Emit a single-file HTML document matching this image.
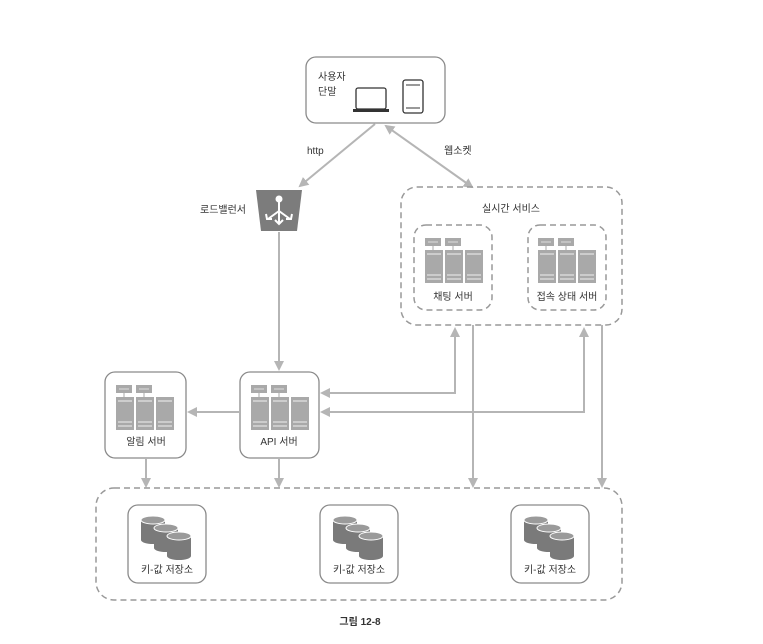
<!DOCTYPE html>
<html><head><meta charset="utf-8"><style>
html,body{margin:0;padding:0;background:#fff;}
svg{display:block;}
text{font-family:"Liberation Sans","Noto Sans CJK KR",sans-serif;fill:#333;font-size:10px;}
</style></head><body>
<svg width="763" height="644" viewBox="0 0 763 644" xmlns="http://www.w3.org/2000/svg">
<defs>
<marker id="ah" markerWidth="10" markerHeight="10" refX="8" refY="5" orient="auto-start-reverse" markerUnits="userSpaceOnUse">
<path d="M0,0 L10,5 L0,10 z" fill="#b5b5b5"/></marker>
<g id="srv">
<rect x="11" y="13" width="16" height="8" fill="#a9a9a9"/><rect x="31" y="13" width="16" height="8" fill="#a9a9a9"/>
<line x1="14" y1="17" x2="24" y2="17" stroke="#ddd" stroke-width="1"/><line x1="34" y1="17" x2="44" y2="17" stroke="#ddd" stroke-width="1"/>
<line x1="19" y1="21" x2="19" y2="25" stroke="#a9a9a9"/><line x1="39" y1="21" x2="39" y2="25" stroke="#a9a9a9"/>
<rect x="11" y="25" width="18" height="33" fill="#a9a9a9"/><rect x="31" y="25" width="18" height="33" fill="#a9a9a9"/><rect x="51" y="25" width="18" height="33" fill="#a9a9a9"/>
<g stroke="#e5e5e5" stroke-width="1.2">
<line x1="13" y1="29" x2="27" y2="29"/><line x1="33" y1="29" x2="47" y2="29"/><line x1="53" y1="29" x2="67" y2="29"/>
<line x1="13" y1="50" x2="27" y2="50"/><line x1="33" y1="50" x2="47" y2="50"/><line x1="53" y1="50" x2="67" y2="50"/>
<line x1="13" y1="54" x2="27" y2="54"/><line x1="33" y1="54" x2="47" y2="54"/><line x1="53" y1="54" x2="67" y2="54"/>
</g></g>
<g id="cyl">
<path d="M0,4 v20 a12,4 0 0 0 24,0 v-20" fill="#7a7a7a"/><ellipse cx="12" cy="4" rx="12" ry="4" fill="#9a9a9a" stroke="#fff" stroke-width="1"/>
</g>
<g id="db">
<use href="#cyl" x="0" y="0"/><use href="#cyl" x="13" y="8"/><use href="#cyl" x="26" y="16"/>
</g>
</defs>

<rect x="306" y="57" width="139" height="66" rx="10" fill="#fff" stroke="#8a8a8a" stroke-width="1.3"/>
<text x="318" y="80" font-size="11">사용자</text>
<text x="318" y="95" font-size="11">단말</text>
<rect x="356" y="88" width="30" height="21" rx="2" fill="none" stroke="#333" stroke-width="1.3"/>
<rect x="353" y="109" width="36" height="3" fill="#333"/>
<rect x="403" y="80" width="20" height="33" rx="2.5" fill="none" stroke="#333" stroke-width="1.3"/>
<line x1="406" y1="85" x2="420" y2="85" stroke="#333"/><line x1="406" y1="108" x2="420" y2="108" stroke="#333"/>

<line x1="375" y1="124" x2="300" y2="186" stroke="#b5b5b5" stroke-width="2" marker-end="url(#ah)"/>
<line x1="386" y1="126" x2="472" y2="187" stroke="#b5b5b5" stroke-width="2" marker-end="url(#ah)" marker-start="url(#ah)"/>
<text x="307" y="154" font-size="11">http</text>
<text x="444" y="154" font-size="11">웹소켓</text>

<text x="200" y="213" font-size="11">로드밸런서</text>
<path d="M256,190 L302,190 L297,231 L261,231 z" fill="#7c7c7c"/>
<g stroke="#fff" stroke-width="2" fill="none">
<circle cx="279" cy="199" r="2.5" fill="#fff"/>
<line x1="279" y1="201" x2="279" y2="224"/><line x1="279" y1="211" x2="268" y2="219"/><line x1="279" y1="211" x2="290" y2="219"/>
<path d="M275,220 L279,224 L283,220"/><path d="M266,214 L267,219 L272,219"/><path d="M292,214 L291,219 L286,219"/>
</g>
<line x1="279" y1="232" x2="279" y2="369" stroke="#b5b5b5" stroke-width="2" marker-end="url(#ah)"/>

<rect x="401" y="187" width="221" height="138" rx="16" fill="none" stroke="#999" stroke-width="1.5" stroke-dasharray="6,4"/>
<text x="511" y="212" font-size="11" text-anchor="middle">실시간 서비스</text>
<rect x="414" y="225" width="78" height="85" rx="12" fill="none" stroke="#999" stroke-width="1.5" stroke-dasharray="6,4"/>
<use href="#srv" x="414" y="225"/>
<text x="453" y="300" text-anchor="middle">채팅 서버</text>
<rect x="528" y="225" width="78" height="85" rx="12" fill="none" stroke="#999" stroke-width="1.5" stroke-dasharray="6,4"/>
<use href="#srv" x="527" y="225"/>
<text x="567" y="300" text-anchor="middle">접속 상태 서버</text>

<rect x="105" y="372" width="81" height="86" rx="10" fill="#fff" stroke="#8a8a8a" stroke-width="1.3"/>
<use href="#srv" x="105" y="372"/>
<text x="146" y="445" text-anchor="middle">알림 서버</text>
<rect x="240" y="372" width="79" height="86" rx="10" fill="#fff" stroke="#8a8a8a" stroke-width="1.3"/>
<use href="#srv" x="240" y="372"/>
<text x="279" y="445" text-anchor="middle">API 서버</text>

<g stroke="#b5b5b5" stroke-width="2" fill="none">
<line x1="240" y1="412" x2="189" y2="412" marker-end="url(#ah)"/>
<polyline points="322,393 455,393 455,329" marker-end="url(#ah)" marker-start="url(#ah)"/>
<polyline points="322,412 584,412 584,329" marker-end="url(#ah)" marker-start="url(#ah)"/>
<line x1="473" y1="325" x2="473" y2="486" marker-end="url(#ah)"/>
<line x1="602" y1="325" x2="602" y2="486" marker-end="url(#ah)"/>
<line x1="146" y1="458" x2="146" y2="486" marker-end="url(#ah)"/>
<line x1="279" y1="458" x2="279" y2="486" marker-end="url(#ah)"/>
</g>

<rect x="96" y="488" width="526" height="112" rx="18" fill="none" stroke="#999" stroke-width="1.5" stroke-dasharray="6,4"/>
<rect x="128" y="505" width="78" height="78" rx="10" fill="#fff" stroke="#8a8a8a" stroke-width="1.3"/>
<use href="#db" x="141" y="516"/>
<text x="167" y="573" text-anchor="middle">키-값 저장소</text>
<rect x="320" y="505" width="78" height="78" rx="10" fill="#fff" stroke="#8a8a8a" stroke-width="1.3"/>
<use href="#db" x="333" y="516"/>
<text x="359" y="573" text-anchor="middle">키-값 저장소</text>
<rect x="511" y="505" width="78" height="78" rx="10" fill="#fff" stroke="#8a8a8a" stroke-width="1.3"/>
<use href="#db" x="524" y="516"/>
<text x="550" y="573" text-anchor="middle">키-값 저장소</text>

<text x="360" y="625" font-size="11" font-weight="bold" text-anchor="middle" fill="#555">그림 12-8</text>
</svg>
</body></html>
